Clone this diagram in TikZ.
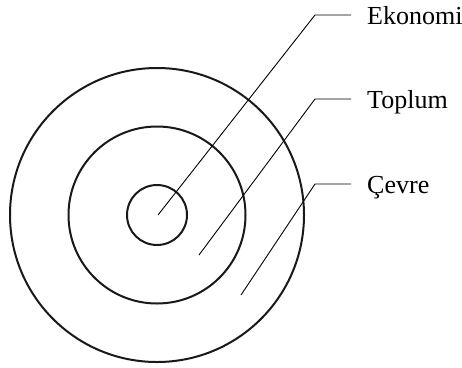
\documentclass[tikz,border=0pt]{standalone}
\usepackage{fontspec}
\setmainfont{Liberation Serif}
\begin{document}
\begin{tikzpicture}[x=1pt,y=-1pt,
  ring/.style={draw=black!90, line width=2pt, circle, inner sep=0pt},
  leader/.style={draw=black, line width=0.9pt},
  lbl/.style={anchor=west, inner xsep=16pt, inner ysep=0pt, text height=18pt, text depth=0pt, font=\fontsize{26}{29}\selectfont}]
\useasboundingbox (0,0) rectangle (462,367);
\node[ring, minimum size=294pt] (outer) at (157,215) {};
\node[ring, minimum size=177pt] (middle) at (157,215) {};
\node[ring, minimum size=60pt] (inner) at (157,215) {};
\node[lbl] (ekon) at (351,15) {Ekonomi};
\node[lbl] (top) at (351,99) {Toplum};
\node[lbl] (cev) at (351,184) {Çevre};
\coordinate (e0) at (158,215);
\coordinate (e1) at (315,15);
\coordinate (t0) at (199,255);
\coordinate (t1) at (315,99);
\coordinate (c0) at (241,295);
\coordinate (c1) at (315,184);
\draw[leader] (e0) -- (e1) -- (ekon.west);
\draw[leader] (t0) -- (t1) -- (top.west);
\draw[leader] (c0) -- (c1) -- (cev.west);
\end{tikzpicture}
\end{document}
